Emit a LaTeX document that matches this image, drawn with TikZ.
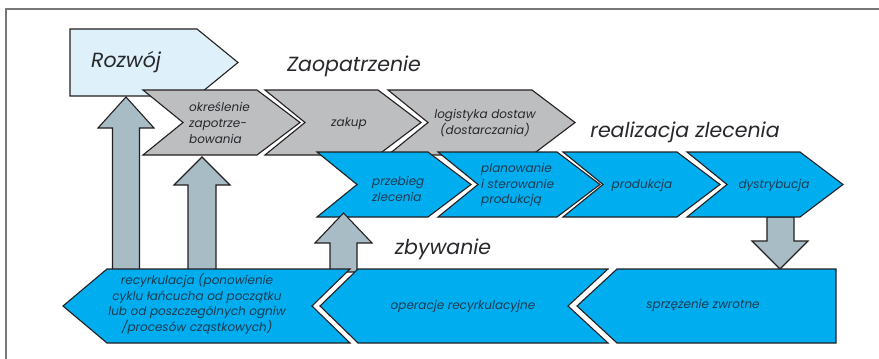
\documentclass[tikz,border=0pt]{standalone}
\usepackage{fontspec}
\setmainfont{Poppins}
\usetikzlibrary{positioning}
\definecolor{edgecol}{RGB}{35,31,32}
\definecolor{framecol}{RGB}{120,120,120}
\definecolor{devblue}{RGB}{222,240,250}
\definecolor{supgray}{RGB}{188,190,192}
\definecolor{ordblue}{RGB}{0,174,239}
\definecolor{arrgray}{RGB}{168,188,198}
\definecolor{txtdark}{RGB}{40,40,44}
\definecolor{txtblue}{RGB}{28,58,80}

\begin{document}
\begin{tikzpicture}[x=1pt, y=-1pt, line join=miter,
  shapedev/.style={draw=edgecol, line width=1.1pt, fill=devblue},
  shapegray/.style={draw=edgecol, line width=1.1pt, fill=supgray},
  shapeblue/.style={draw=edgecol, line width=1.1pt, fill=ordblue},
  blk/.style={draw=edgecol, line width=1.1pt, fill=arrgray},
  intxt/.style={inner sep=0pt, text=txtdark, font=\fontsize{12}{15.8}\selectfont\itshape},
  bluetxt/.style={intxt, text=txtblue},
  phase/.style={inner sep=0pt, text=txtdark, font=\fontsize{20.5}{24}\selectfont\itshape}]
\useasboundingbox (0,0) rectangle (879,359);
% Frame
\draw[framecol, line width=1.2pt] (6,359) -- (6,9) -- (879,9);
% Rozwoj
\draw[shapedev] (70,29) -- (197,29) -- (238,62.5) -- (197,96) -- (70,96) -- cycle;
\node[phase] (rozwoj) at (126,62) {Rozwój};
% Zaopatrzenie row
\draw[shapegray] (143,90) -- (257,90) -- (300,122.5) -- (257,155) -- (143,155) -- (183,122.5) -- cycle;
\draw[shapegray] (265,90) -- (378,90) -- (421,122.5) -- (378,155) -- (265,155) -- (305,122.5) -- cycle;
\draw[shapegray] (388,90) -- (532,90) -- (575,122.5) -- (532,155) -- (388,155) -- (428,122.5) -- cycle;
\node[intxt, anchor=west, align=left] (okresl) at (189,123) {określenie\\zapotrze-\\bowania};
\node[intxt] (zakup) at (349,124) {zakup};
\node[intxt, align=center] (logist) at (485,123) {logistyka dostaw\\(dostarczania)};
\node[phase] (zaop) at (354,66) {Zaopatrzenie};
% arrow down to feedback
\draw[blk] (767,217) -- (767,241) -- (752,241) -- (780,269) -- (808,241) -- (794,241) -- (794,217) -- cycle;
% Realizacja zlecenia row
\draw[shapeblue] (317,152) -- (428,152) -- (471,184.5) -- (428,217) -- (317,217) -- (357,184.5) -- cycle;
\draw[shapeblue] (438,152) -- (557,152) -- (600,184.5) -- (557,217) -- (438,217) -- (478,184.5) -- cycle;
\draw[shapeblue] (563,152) -- (677,152) -- (720,184.5) -- (677,217) -- (563,217) -- (603,184.5) -- cycle;
\draw[shapeblue] (687,152) -- (800,152) -- (843,184.5) -- (800,217) -- (687,217) -- (727,184.5) -- cycle;
\node[bluetxt, anchor=west, align=left] (przeb) at (372,189) {przebieg\\zlecenia};
\node[bluetxt, anchor=west, align=left] (plan) at (481,185) {planowanie\\i sterowanie\\produkcją};
\node[bluetxt] (prod) at (642,185) {produkcja};
\node[bluetxt] (dystr) at (774,185) {dystrybucja};
\node[phase] (realiz) at (685,132) {realizacja zlecenia};
% up arrows
\draw[blk] (112.5,272) -- (112.5,128) -- (98,128) -- (126,97) -- (154,128) -- (139.5,128) -- (139.5,272) -- cycle;
\draw[blk] (188,272) -- (188,185) -- (174,185) -- (202,157) -- (230,185) -- (216,185) -- (216,272) -- cycle;
\draw[blk] (330,272) -- (330,243) -- (315,243) -- (343.5,213) -- (372,243) -- (357,243) -- (357,272) -- cycle;
\node[phase] (zbyw) at (443,249) {zbywanie};
% Zbywanie row
\draw[shapeblue] (63,306) -- (107,269) -- (350,269) -- (312,306) -- (350,343) -- (107,343) -- cycle;
\draw[shapeblue] (320,306) -- (358,269) -- (608,269) -- (568,306) -- (608,343) -- (358,343) -- cycle;
\draw[shapeblue] (577,306) -- (617,269) -- (836,269) -- (836,343) -- (617,343) -- cycle;
\node[bluetxt, align=center] (recyk) at (197,304) {recyrkulacja (ponowienie\\cyklu łańcucha od początku\\lub od poszczególnych ogniw\\/procesów cząstkowych)};
\node[bluetxt] (operac) at (463,306) {operacje recyrkulacyjne};
\node[bluetxt] (sprzez) at (703,305) {sprzężenie zwrotne};
\end{tikzpicture}
\end{document}
